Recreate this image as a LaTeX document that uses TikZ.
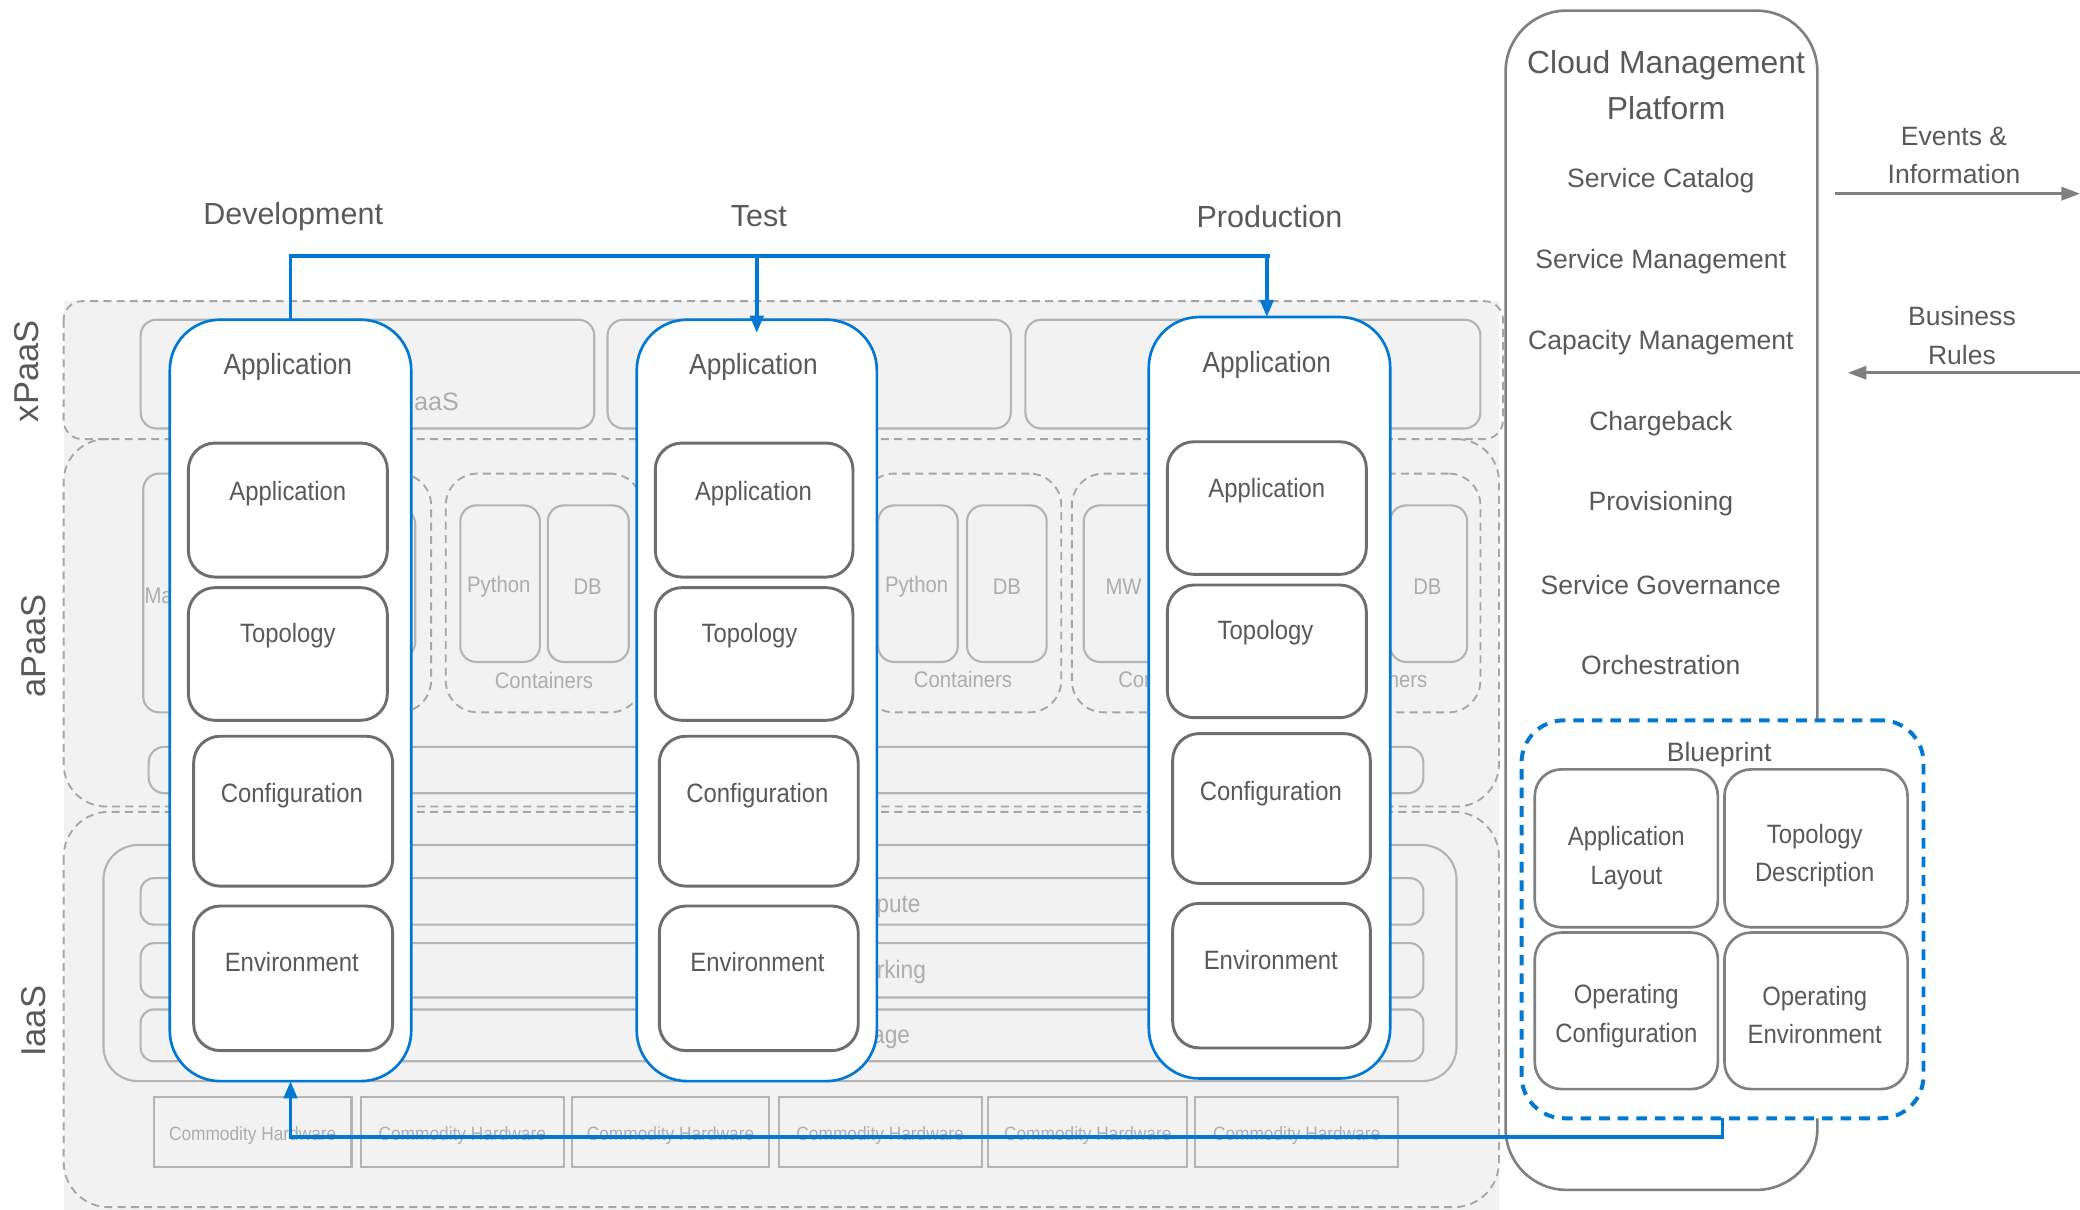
\documentclass[tikz,border=0pt]{standalone}
\usepackage{fontspec}
\setmainfont{Liberation Sans}
\newfontfamily\narrowfont[FakeStretch=0.9]{Liberation Sans}
\usetikzlibrary{arrows.meta}
\definecolor{cblue}{HTML}{0078D4}
\definecolor{dgray}{HTML}{6E6E6E}
\definecolor{lgray}{HTML}{B4B4B4}
\definecolor{bggray}{HTML}{F2F2F2}
\definecolor{dashc}{HTML}{A6A6A6}
\definecolor{txt}{HTML}{595959}
\definecolor{dimtxt}{HTML}{ADADAD}
\definecolor{cmpgray}{HTML}{808080}
\newcommand\mkbox[6]{\node[#1, anchor=north west, minimum width={(#5)-(#3)}, minimum height={(#6)-(#4)}] (#2) at (#3,#4) {};}
\begin{document}
\begin{tikzpicture}[x=1pt,y=-1pt,
  every node/.style={inner sep=0pt, outer sep=0pt},
  region/.style={draw=dashc, line width=1.4pt, dash pattern=on 6pt off 4pt},
  gbox/.style={draw=lgray, line width=1.6pt, rounded corners=12pt},
  sqbox/.style={draw=lgray, line width=1.6pt},
  dgroup/.style={draw=dashc, line width=1.4pt, dash pattern=on 6pt off 4pt, rounded corners=24pt},
  colbox/.style={draw=cblue, line width=2pt, fill=white, rounded corners=38pt},
  ibox/.style={draw=dgray, line width=2.2pt, fill=white, rounded corners=20pt},
  cmpbox/.style={draw=cmpgray, line width=2pt, fill=white, rounded corners=46pt},
  bpbox/.style={draw=cblue, line width=3pt, fill=white, dash pattern=on 8pt off 6pt, rounded corners=32pt},
  bpin/.style={draw=cmpgray, line width=2pt, fill=white, rounded corners=20pt},
  tshift/.style={yshift=-2pt},
  ttl/.style={tshift, text=txt, font=\fontsize{23}{28}\selectfont},
  side/.style={text=txt, font=\fontsize{26}{30}\selectfont, rotate=90},
  coltitle/.style={tshift, text=txt, font=\narrowfont\fontsize{22}{26}\selectfont},
  blbl/.style={tshift, text=txt, font=\narrowfont\fontsize{20}{24}\selectfont},
  dim/.style={tshift, text=dimtxt, font=\narrowfont\fontsize{17}{20}\selectfont},
  rowt/.style={tshift, text=dimtxt, font=\narrowfont\fontsize{19}{22}\selectfont},
  hw/.style={tshift, text=dimtxt, font=\narrowfont\fontsize{14.5}{17}\selectfont},
  cmpt/.style={tshift, text=txt, font=\fontsize{20}{29}\selectfont, align=center},
  cmph/.style={tshift, text=txt, font=\fontsize{24}{35}\selectfont, align=center},
  bptxt/.style={tshift, text=txt, font=\narrowfont\fontsize{20}{29}\selectfont, align=center},
  bline/.style={draw=cblue, line width=2.8pt},
  barrow/.style={bline, -{Triangle[length=13pt,width=10pt]}},
  garrow/.style={draw=cmpgray, line width=2pt, -{Triangle[length=14pt,width=10pt]}},
]
\useasboundingbox (0,0) rectangle (1568,912);

% ---------- background layers ----------
\fill[bggray] (48,227) rectangle (1130,912);
\draw[region, rounded corners=14pt] (48,227) rectangle (1133,331);
\draw[region, rounded corners=32pt] (82,331) -- (48,331) -- (48,608) -- (1130,608) -- (1130,331) -- (1096,331);
\draw[region, rounded corners=34pt] (48,612) rectangle (1130,910);

% layer labels
\node[side] (lx) at (20,280) {xPaaS};
\node[side] (la) at (25,487) {aPaaS};
\node[side] (li) at (25,770) {IaaS};

% xPaaS boxes
\mkbox{gbox}{xa}{106}{241}{448}{323}
\mkbox{gbox}{xb}{458}{241}{762}{323}
\mkbox{gbox}{xc}{773}{241}{1116}{323}
\node[dim, font=\fontsize{19}{22}\selectfont, anchor=east] (xat) at (346,301) {aaS};

% aPaaS content
\mkbox{gbox}{ma}{108}{357}{170}{537}
\node[dim, anchor=west] (mat) at (109,447) {Ma};
\mkbox{dgroup}{g1}{181}{357}{325}{537}
\mkbox{gbox}{g1a}{192}{383}{252}{496}
\mkbox{gbox}{g1b}{253}{383}{313}{496}
\mkbox{dgroup}{g2}{336}{357}{484}{537}
\mkbox{gbox}{g2a}{347}{381}{407}{499}
\mkbox{gbox}{g2b}{413}{381}{474}{499}
\node[dim] (g2at) at (376,440) {Python};
\node[dim] (g2bt) at (443,440) {DB};
\node[dim] (g2t) at (410,511) {Containers};
\mkbox{dgroup}{g3}{650}{357}{800}{537}
\mkbox{gbox}{g3a}{662}{381}{722}{499}
\mkbox{gbox}{g3b}{729}{381}{789}{499}
\node[dim] (g3at) at (691,440) {Python};
\node[dim] (g3bt) at (759,440) {DB};
\node[dim] (g3t) at (726,510) {Containers};
\mkbox{dgroup}{g4}{808}{357}{952}{537}
\mkbox{gbox}{g4a}{817}{381}{877}{499}
\mkbox{gbox}{g4b}{883}{381}{943}{499}
\node[dim] (g4at) at (847,440) {MW};
\node[dim] (g4t) at (880,510) {Containers};
\mkbox{dgroup}{g5}{962}{357}{1116}{537}
\mkbox{gbox}{g5a}{973}{381}{1040}{499}
\mkbox{gbox}{g5b}{1048}{381}{1106}{499}
\node[dim] (g5bt) at (1076,440) {DB};
\node[dim] (g5t) at (1039,510) {Containers};
\mkbox{gbox}{abar}{112}{563}{1073}{598}

% IaaS content
\mkbox{gbox, rounded corners=26pt}{ibig}{78}{637}{1098}{815}
\mkbox{gbox, rounded corners=10pt}{r1}{106}{662}{1073}{697}
\mkbox{gbox, rounded corners=10pt}{r2}{106}{711}{1073}{752}
\mkbox{gbox, rounded corners=10pt}{r3}{106}{761}{1073}{800}
\node[rowt, anchor=east] (r1t) at (694,681) {Compute};
\node[rowt, anchor=east] (r2t) at (698,731) {Networking};
\node[rowt, anchor=east] (r3t) at (686,780) {Storage};
\mkbox{sqbox}{h1}{116}{827}{265}{880}
\mkbox{sqbox}{h2}{272}{827}{425}{880}
\mkbox{sqbox}{h3}{431}{827}{580}{880}
\mkbox{sqbox}{h4}{587}{827}{740}{880}
\mkbox{sqbox}{h5}{745}{827}{895}{880}
\mkbox{sqbox}{h6}{901}{827}{1054}{880}
\node[hw] (h1t) at (190.5,854) {Commodity Hardware};
\node[hw] (h2t) at (348.5,854) {Commodity Hardware};
\node[hw] (h3t) at (505.5,854) {Commodity Hardware};
\node[hw] (h4t) at (663.5,854) {Commodity Hardware};
\node[hw] (h5t) at (820,854) {Commodity Hardware};
\node[hw] (h6t) at (977.5,854) {Commodity Hardware};

% ---------- stage titles ----------
\node[ttl] (tdev) at (221,161) {Development};
\node[ttl] (ttest) at (572,161) {Test};
\node[ttl] (tprod) at (957,161) {Production};

% ---------- blue columns ----------
\mkbox{colbox}{dev}{128}{241}{310}{815}
\mkbox{colbox}{test}{480}{241}{661}{815}
\mkbox{colbox}{prod}{866}{239}{1048}{813}

\node[coltitle] (devt) at (217,275) {Application};
\node[coltitle] (testt) at (568,275) {Application};
\node[coltitle] (prodt) at (955,273) {Application};

\mkbox{ibox}{devA}{142}{334}{292}{435}
\mkbox{ibox}{devT}{142}{443}{292}{543}
\mkbox{ibox}{devC}{146}{555}{296}{668}
\mkbox{ibox}{devE}{146}{683}{296}{792}
\node[blbl] (devAt) at (217,370) {Application};
\node[blbl] (devTt) at (217,477) {Topology};
\node[blbl] (devCt) at (220,598) {Configuration};
\node[blbl] (devEt) at (220,723) {Environment};

\mkbox{ibox}{tstA}{494}{334}{643}{435}
\mkbox{ibox}{tstT}{494}{443}{643}{543}
\mkbox{ibox}{tstC}{497}{555}{647}{668}
\mkbox{ibox}{tstE}{497}{683}{647}{792}
\node[blbl] (tstAt) at (568,370) {Application};
\node[blbl] (tstTt) at (565,477) {Topology};
\node[blbl] (tstCt) at (571,598) {Configuration};
\node[blbl] (tstEt) at (571,723) {Environment};

\mkbox{ibox}{prdA}{880}{333}{1030}{433}
\mkbox{ibox}{prdT}{880}{441}{1030}{541}
\mkbox{ibox}{prdC}{884}{553}{1033}{666}
\mkbox{ibox}{prdE}{884}{681}{1033}{790}
\node[blbl] (prdAt) at (955,368) {Application};
\node[blbl] (prdTt) at (954,475) {Topology};
\node[blbl] (prdCt) at (958,596) {Configuration};
\node[blbl] (prdEt) at (958,722) {Environment};

% ---------- Cloud Management Platform ----------
\mkbox{cmpbox}{cmp}{1135}{8}{1370}{897}
\node[cmph] (cmpt1) at (1256,62) {Cloud Management\\Platform};
\node[cmpt] (s1) at (1252,134) {Service Catalog};
\node[cmpt] (s2) at (1252,195) {Service Management};
\node[cmpt] (s3) at (1252,256) {Capacity Management};
\node[cmpt] (s4) at (1252,317) {Chargeback};
\node[cmpt] (s5) at (1252,378) {Provisioning};
\node[cmpt] (s6) at (1252,439) {Service Governance};
\node[cmpt] (s7) at (1252,499) {Orchestration};

% Blueprint
\mkbox{bpbox}{bp}{1147}{543}{1450}{843}
\node[cmpt] (bpt) at (1296,567) {Blueprint};
\mkbox{bpin}{bp1}{1157}{580}{1295}{699}
\mkbox{bpin}{bp2}{1300}{580}{1438}{699}
\mkbox{bpin}{bp3}{1157}{703}{1295}{821}
\mkbox{bpin}{bp4}{1300}{703}{1438}{821}
\node[bptxt] (bp1t) at (1226,645) {Application\\Layout};
\node[bptxt] (bp2t) at (1368,643) {Topology\\Description};
\node[bptxt] (bp3t) at (1226,764) {Operating\\Configuration};
\node[bptxt] (bp4t) at (1368,763) {Operating\\Environment};

% external arrows
\node[cmpt] (evt) at (1473,115) {Events \&\\Information};
\node[cmpt] (brt) at (1479,251) {Business\\Rules};
\coordinate (ev1) at (1383,146);
\coordinate (ev2) at (1568,146);
\coordinate (br1) at (1568,281);
\coordinate (br2) at (1393,281);
\draw[garrow] (ev1) -- (ev2);
\draw[garrow] (br1) -- (br2);

% ---------- blue connectors ----------
\coordinate (bus) at (0,193);
\coordinate (busb) at (0,857);
\draw[bline, line join=miter] (dev.north) -- (dev.north |- bus) -- (prod.north |- bus);
\draw[barrow] (test.north |- bus) -- ([yshift=-10pt]test.north);
\draw[barrow, line join=miter] ([xshift=-2pt]prod.north |- bus) -- ([xshift=-2pt]prod.north);
\draw[barrow, line join=miter] (bp.south) -- (bp.south |- busb) -- (dev.south |- busb) -- (dev.south);
\end{tikzpicture}
\end{document}
